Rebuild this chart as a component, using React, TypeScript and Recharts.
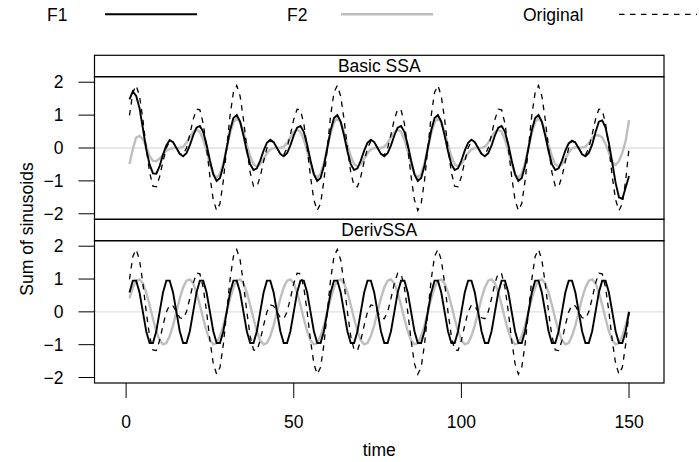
import { LineChart, Line, XAxis, YAxis, CartesianGrid } from "recharts";

// Original series: sum of sinusoids, time 1..150
const original = [
  0.99, 1.69, 1.9, 1.58, 0.87, 0.0, -0.74, -1.16, -1.18, -0.87,
  -0.41, 0.0, 0.21, 0.18, 0.0, -0.18, -0.21, 0.0, 0.41, 0.87,
  1.18, 1.16, 0.74, 0.0, -0.87, -1.58, -1.9, -1.69, -0.99, 0.0,
  0.99, 1.69, 1.9, 1.58, 0.87, 0.0, -0.74, -1.16, -1.18, -0.87,
  -0.41, 0.0, 0.21, 0.18, 0.0, -0.18, -0.21, 0.0, 0.41, 0.87,
  1.18, 1.16, 0.74, 0.0, -0.87, -1.58, -1.9, -1.69, -0.99, 0.0,
  0.99, 1.69, 1.9, 1.58, 0.87, 0.0, -0.74, -1.16, -1.18, -0.87,
  -0.41, 0.0, 0.21, 0.18, 0.0, -0.18, -0.21, 0.0, 0.41, 0.87,
  1.18, 1.16, 0.74, 0.0, -0.87, -1.58, -1.9, -1.69, -0.99, 0.0,
  0.99, 1.69, 1.9, 1.58, 0.87, 0.0, -0.74, -1.16, -1.18, -0.87,
  -0.41, 0.0, 0.21, 0.18, 0.0, -0.18, -0.21, 0.0, 0.41, 0.87,
  1.18, 1.16, 0.74, 0.0, -0.87, -1.58, -1.9, -1.69, -0.99, 0.0,
  0.99, 1.69, 1.9, 1.58, 0.87, 0.0, -0.74, -1.16, -1.18, -0.87,
  -0.41, 0.0, 0.21, 0.18, 0.0, -0.18, -0.21, 0.0, 0.41, 0.87,
  1.18, 1.16, 0.74, 0.0, -0.87, -1.58, -1.9, -1.69, -0.99, 0.0,
];

// Basic SSA reconstructions
const basicF1 = [
  1.48, 1.72, 1.58, 1.21, 0.6, -0.04, -0.5, -0.77, -0.78, -0.55,
  -0.2, 0.08, 0.24, 0.18, 0.0, -0.18, -0.25, -0.16, 0.08, 0.38,
  0.62, 0.67, 0.49, 0.1, -0.38, -0.8, -1.0, -0.91, -0.54, 0.0,
  0.54, 0.91, 1.0, 0.8, 0.38, -0.1, -0.49, -0.67, -0.62, -0.38,
  -0.08, 0.16, 0.25, 0.18, 0.0, -0.18, -0.25, -0.16, 0.08, 0.38,
  0.62, 0.67, 0.49, 0.1, -0.38, -0.8, -1.0, -0.91, -0.54, 0.0,
  0.54, 0.91, 1.0, 0.8, 0.38, -0.1, -0.49, -0.67, -0.62, -0.38,
  -0.08, 0.16, 0.25, 0.18, 0.0, -0.18, -0.25, -0.16, 0.08, 0.38,
  0.62, 0.67, 0.49, 0.1, -0.38, -0.8, -1.0, -0.91, -0.54, 0.0,
  0.54, 0.91, 1.0, 0.8, 0.38, -0.1, -0.49, -0.67, -0.62, -0.38,
  -0.08, 0.16, 0.25, 0.18, 0.0, -0.18, -0.25, -0.16, 0.08, 0.38,
  0.62, 0.67, 0.49, 0.1, -0.38, -0.8, -1.0, -0.91, -0.54, 0.0,
  0.54, 0.91, 1.0, 0.8, 0.38, -0.1, -0.49, -0.67, -0.62, -0.38,
  -0.08, 0.14, 0.22, 0.16, -0.01, -0.19, -0.25, -0.15, 0.1, 0.48,
  0.8, 0.84, 0.62, 0.15, -0.45, -1.06, -1.5, -1.55, -1.2, -0.85,
];

const basicF2 = [
  -0.49, -0.03, 0.32, 0.37, 0.27, 0.04, -0.24, -0.39, -0.4, -0.32,
  -0.21, -0.08, -0.03, 0.0, 0.0, 0.0, 0.04, 0.16, 0.33, 0.49,
  0.56, 0.49, 0.25, -0.1, -0.49, -0.78, -0.9, -0.78, -0.45, 0.0,
  0.45, 0.78, 0.9, 0.78, 0.49, 0.1, -0.25, -0.49, -0.56, -0.49,
  -0.33, -0.16, -0.04, 0.0, 0.0, 0.0, 0.04, 0.16, 0.33, 0.49,
  0.56, 0.49, 0.25, -0.1, -0.49, -0.78, -0.9, -0.78, -0.45, 0.0,
  0.45, 0.78, 0.9, 0.78, 0.49, 0.1, -0.25, -0.49, -0.56, -0.49,
  -0.33, -0.16, -0.04, 0.0, 0.0, 0.0, 0.04, 0.16, 0.33, 0.49,
  0.56, 0.49, 0.25, -0.1, -0.49, -0.78, -0.9, -0.78, -0.45, 0.0,
  0.45, 0.78, 0.9, 0.78, 0.49, 0.1, -0.25, -0.49, -0.56, -0.49,
  -0.33, -0.16, -0.04, 0.0, 0.0, 0.0, 0.04, 0.16, 0.33, 0.49,
  0.56, 0.49, 0.25, -0.1, -0.49, -0.78, -0.9, -0.78, -0.45, 0.0,
  0.45, 0.78, 0.9, 0.78, 0.49, 0.1, -0.25, -0.49, -0.56, -0.49,
  -0.33, -0.14, -0.01, 0.02, 0.01, 0.01, 0.04, 0.15, 0.31, 0.39,
  0.38, 0.32, 0.12, -0.15, -0.42, -0.52, -0.4, -0.14, 0.21, 0.85,
];

// DerivSSA reconstructions
const derivF1 = [
  0.59, 0.95, 0.95, 0.59, 0.0, -0.59, -0.95, -0.95, -0.59, 0.0,
  0.59, 0.95, 0.95, 0.59, 0.0, -0.59, -0.95, -0.95, -0.59, 0.0,
  0.59, 0.95, 0.95, 0.59, 0.0, -0.59, -0.95, -0.95, -0.59, 0.0,
  0.59, 0.95, 0.95, 0.59, 0.0, -0.59, -0.95, -0.95, -0.59, 0.0,
  0.59, 0.95, 0.95, 0.59, 0.0, -0.59, -0.95, -0.95, -0.59, 0.0,
  0.59, 0.95, 0.95, 0.59, 0.0, -0.59, -0.95, -0.95, -0.59, 0.0,
  0.59, 0.95, 0.95, 0.59, 0.0, -0.59, -0.95, -0.95, -0.59, 0.0,
  0.59, 0.95, 0.95, 0.59, 0.0, -0.59, -0.95, -0.95, -0.59, 0.0,
  0.59, 0.95, 0.95, 0.59, 0.0, -0.59, -0.95, -0.95, -0.59, 0.0,
  0.59, 0.95, 0.95, 0.59, 0.0, -0.59, -0.95, -0.95, -0.59, 0.0,
  0.59, 0.95, 0.95, 0.59, 0.0, -0.59, -0.95, -0.95, -0.59, 0.0,
  0.59, 0.95, 0.95, 0.59, 0.0, -0.59, -0.95, -0.95, -0.59, 0.0,
  0.59, 0.95, 0.95, 0.59, 0.0, -0.59, -0.95, -0.95, -0.59, 0.0,
  0.59, 0.95, 0.95, 0.59, 0.0, -0.59, -0.95, -0.95, -0.59, 0.0,
  0.59, 0.95, 0.95, 0.59, 0.0, -0.59, -0.95, -0.95, -0.59, 0.0,
];

const derivF2 = [
  0.41, 0.74, 0.95, 0.99, 0.87, 0.59, 0.21, -0.21, -0.59, -0.87,
  -0.99, -0.95, -0.74, -0.41, 0.0, 0.41, 0.74, 0.95, 0.99, 0.87,
  0.59, 0.21, -0.21, -0.59, -0.87, -0.99, -0.95, -0.74, -0.41, 0.0,
  0.41, 0.74, 0.95, 0.99, 0.87, 0.59, 0.21, -0.21, -0.59, -0.87,
  -0.99, -0.95, -0.74, -0.41, 0.0, 0.41, 0.74, 0.95, 0.99, 0.87,
  0.59, 0.21, -0.21, -0.59, -0.87, -0.99, -0.95, -0.74, -0.41, 0.0,
  0.41, 0.74, 0.95, 0.99, 0.87, 0.59, 0.21, -0.21, -0.59, -0.87,
  -0.99, -0.95, -0.74, -0.41, 0.0, 0.41, 0.74, 0.95, 0.99, 0.87,
  0.59, 0.21, -0.21, -0.59, -0.87, -0.99, -0.95, -0.74, -0.41, 0.0,
  0.41, 0.74, 0.95, 0.99, 0.87, 0.59, 0.21, -0.21, -0.59, -0.87,
  -0.99, -0.95, -0.74, -0.41, 0.0, 0.41, 0.74, 0.95, 0.99, 0.87,
  0.59, 0.21, -0.21, -0.59, -0.87, -0.99, -0.95, -0.74, -0.41, 0.0,
  0.41, 0.74, 0.95, 0.99, 0.87, 0.59, 0.21, -0.21, -0.59, -0.87,
  -0.99, -0.95, -0.74, -0.41, 0.0, 0.41, 0.74, 0.95, 0.99, 0.87,
  0.59, 0.21, -0.21, -0.59, -0.87, -0.99, -0.95, -0.74, -0.41, 0.0,
];

const xTicks = [0, 50, 100, 150];
const yTicks = [-2, -1, 0, 1, 2];

const FONT = '"Liberation Sans", Arial, Helvetica, sans-serif';
const FS = 17.5;
const W = 699;
const H = 462;

// panel geometry (px)
const PL = 94.5;
const PR = 664;
const TOP_STRIP = 55.3;
const TOP_PANEL = 76.7;
const MID = 219.3;
const BOT_PANEL = 240.7;
const BOTTOM = 383;
const Y_AXIS_W = 60;
const X_AXIS_H = 40;

const GREY = "#bebebe";
const DASH = "5.5 5.5";

const minus = (v: number) => String(v).replace("-", "\u2212");

function Panel({
  f1,
  f2,
  top,
  bottom,
  showX,
}: {
  f1: number[];
  f2: number[];
  top: number;
  bottom: number;
  showX: boolean;
}) {
  const data = original.map((v, i) => ({
    t: i + 1,
    orig: v,
    f1: f1[i],
    f2: f2[i],
  }));
  const tickStyle = { fill: "#000", fontSize: FS, fontFamily: FONT };

  return (
    <div style={{ position: "absolute", left: 0, top: 0 }}>
      <LineChart
        width={W}
        height={H}
        data={data}
        margin={{
          top,
          bottom: showX ? H - bottom - X_AXIS_H : H - bottom,
          left: PL - Y_AXIS_W,
          right: W - PR,
        }}
      >
        <CartesianGrid
          vertical={false}
          horizontalValues={[0]}
          stroke="#e0e0e0"
          strokeWidth={1.3}
        />
        <XAxis
          dataKey="t"
          type="number"
          domain={[-9.43, 160.43]}
          ticks={xTicks}
          hide={!showX}
          height={X_AXIS_H}
          axisLine={false}
          tickSize={15}
          tickMargin={18}
          tick={tickStyle}
          tickLine={{ stroke: "#000" }}
          allowDataOverflow
        />
        <YAxis
          type="number"
          domain={[-2.168, 2.168]}
          ticks={yTicks}
          width={Y_AXIS_W}
          axisLine={false}
          tickSize={16}
          tickMargin={15}
          tickFormatter={minus}
          tick={tickStyle}
          tickLine={{ stroke: "#000" }}
          allowDataOverflow
        />
        <Line
          type="linear"
          dataKey="f2"
          stroke={GREY}
          strokeWidth={2.4}
          dot={false}
          isAnimationActive={false}
        />
        <Line
          type="linear"
          dataKey="f1"
          stroke="#000"
          strokeWidth={1.9}
          dot={false}
          isAnimationActive={false}
        />
        <Line
          type="linear"
          dataKey="orig"
          stroke="#000"
          strokeWidth={1.3}
          strokeDasharray={DASH}
          dot={false}
          isAnimationActive={false}
        />
      </LineChart>
    </div>
  );
}

export default function App() {
  const cx = (PL + PR) / 2;
  const txt = { fontFamily: FONT, fontSize: FS, fill: "#000" };

  return (
    <div
      style={{
        position: "absolute",
        left: 0,
        top: 0,
        width: W,
        height: H,
        background: "#fff",
        overflow: "hidden",
      }}
    >
      <Panel f1={basicF1} f2={basicF2} top={TOP_PANEL} bottom={MID} showX={false} />
      <Panel f1={derivF1} f2={derivF2} top={BOT_PANEL} bottom={BOTTOM} showX={true} />

      <svg
        width={W}
        height={H}
        style={{ position: "absolute", left: 0, top: 0, pointerEvents: "none" }}
      >
        {/* key */}
        <text x={47} y={15} dominantBaseline="central" {...txt}>F1</text>
        <line x1={105} x2={197} y1={14.3} y2={14.3} stroke="#000" strokeWidth={1.9} />
        <text x={287} y={15} dominantBaseline="central" {...txt}>F2</text>
        <line x1={341} x2={433} y1={14.3} y2={14.3} stroke={GREY} strokeWidth={2.4} />
        <text x={523} y={15} dominantBaseline="central" {...txt}>Original</text>
        <line
          x1={619}
          x2={697}
          y1={14.3}
          y2={14.3}
          stroke="#000"
          strokeWidth={1.3}
          strokeDasharray={DASH}
        />

        {/* strips and panel borders */}
        <rect x={PL} y={TOP_STRIP} width={PR - PL} height={TOP_PANEL - TOP_STRIP} fill="none" stroke="#000" strokeWidth={1.2} />
        <text x={cx} y={(TOP_STRIP + TOP_PANEL) / 2} textAnchor="middle" dominantBaseline="central" {...txt}>
          Basic SSA
        </text>
        <rect x={PL} y={TOP_PANEL} width={PR - PL} height={MID - TOP_PANEL} fill="none" stroke="#000" strokeWidth={1.2} />
        <rect x={PL} y={MID} width={PR - PL} height={BOT_PANEL - MID} fill="none" stroke="#000" strokeWidth={1.2} />
        <text x={cx} y={(MID + BOT_PANEL) / 2} textAnchor="middle" dominantBaseline="central" {...txt}>
          DerivSSA
        </text>
        <rect x={PL} y={BOT_PANEL} width={PR - PL} height={BOTTOM - BOT_PANEL} fill="none" stroke="#000" strokeWidth={1.2} />

        {/* axis titles */}
        <text
          x={0}
          y={0}
          transform={`translate(27, 229) rotate(-90)`}
          textAnchor="middle"
          dominantBaseline="central"
          {...txt}
        >
          Sum of sinusoids
        </text>
        <text x={cx} y={450} textAnchor="middle" dominantBaseline="central" {...txt}>
          time
        </text>
      </svg>
    </div>
  );
}
